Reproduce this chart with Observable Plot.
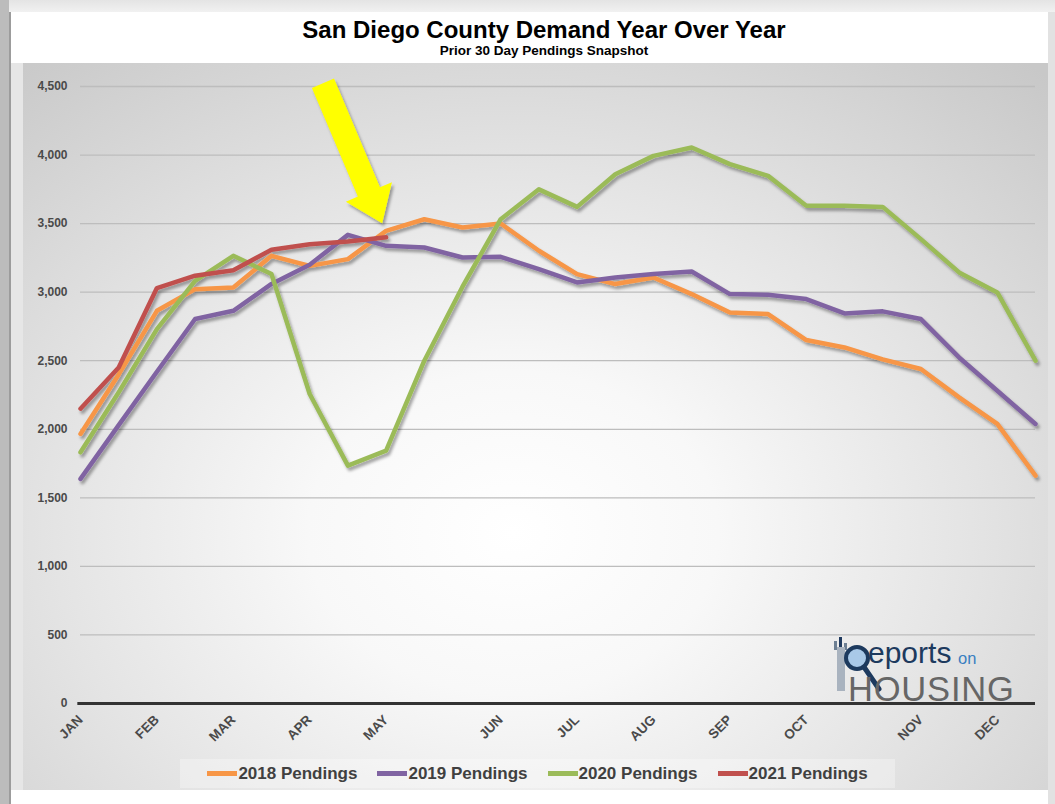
<!DOCTYPE html>
<html>
<head>
<meta charset="utf-8">
<script src="https://cdn.jsdelivr.net/npm/d3@7"></script>
<script src="https://cdn.jsdelivr.net/npm/@observablehq/plot@0.6"></script>
<style>
html,body{margin:0;padding:0;background:#fff;width:1055px;height:804px;overflow:hidden;font-family:"Liberation Sans",Arial,sans-serif;}
#topbar{position:absolute;left:0;top:0;width:1055px;height:12px;background:linear-gradient(#e4e4e4,#f1f1f1);}
#leftbar{position:absolute;left:0;top:0;width:9px;height:804px;background:#bcbcbc;}
#leftline{position:absolute;left:9px;top:12px;width:2px;height:792px;background:#9c9c9c;}
#leftpad{position:absolute;left:11px;top:63px;width:12px;height:727px;background:#e6e6e6;}
#rightpad{position:absolute;left:1048px;top:12px;width:7px;height:792px;background:#e2e2e2;}
#title{position:absolute;left:544px;top:18px;transform:translateX(-50%);white-space:nowrap;font-weight:bold;font-size:24px;line-height:24px;color:#000;}
#subtitle{position:absolute;left:544px;top:44px;transform:translateX(-50%);white-space:nowrap;font-weight:bold;font-size:13.5px;line-height:14px;color:#000;}
#plotbg{position:absolute;left:23px;top:63px;width:1025px;height:727px;
  background:radial-gradient(ellipse 790px 620px at 490px 470px,#ffffff 0%,#f8f8f8 26%,#e4e4e4 58%,#d2d2d2 85%,#c8c8c8 100%);}
#chart{position:absolute;left:0;top:0;}
#legend{position:absolute;left:157px;top:696px;width:715px;height:29px;background:rgba(255,255,255,0.3);
  display:flex;justify-content:center;align-items:center;gap:20px;}
.entry{display:flex;align-items:center;font-weight:bold;font-size:17px;color:#404040;white-space:nowrap;}
.sw{width:30px;height:5px;margin-right:1px;}
#logo{position:absolute;left:800px;top:560px;}
</style>
</head>
<body>
<div id="topbar"></div>
<div id="leftbar"></div>
<div id="leftline"></div>
<div id="leftpad"></div>
<div id="rightpad"></div>
<div id="title">San Diego County Demand Year Over Year</div>
<div id="subtitle">Prior 30 Day Pendings Snapshot</div>
<div id="plotbg">
  <div id="chart"></div>
  <svg id="logo" width="225" height="90" xmlns="http://www.w3.org/2000/svg">
    <rect x="11" y="18" width="3" height="9" fill="#6d7f93"/>
    <rect x="16" y="14" width="3" height="13" fill="#1f3a5f"/>
    <rect x="21" y="20" width="3" height="7" fill="#6d7f93"/>
    <rect x="14" y="24" width="8" height="44" fill="#a9b3bf"/>
    <circle cx="34" cy="35" r="11" fill="#a9c9e8" stroke="#1d3a5e" stroke-width="4"/>
    <line x1="41" y1="44" x2="56" y2="66" stroke="#1d3a5e" stroke-width="5" stroke-linecap="round"/>
    <text x="45" y="39.5" font-family="Liberation Sans, Arial, sans-serif" font-size="30" fill="#1d3a5e">eports</text>
    <text x="135" y="41" font-family="Liberation Sans, Arial, sans-serif" font-size="16.5" fill="#3a7fc1">on</text>
    <text x="25" y="77.5" font-family="Liberation Sans, Arial, sans-serif" font-size="34.5" letter-spacing="0.8" fill="#666">HOUSING</text>
  </svg>
  <div id="legend"></div>
</div>
<script>
// ---- data ----
const months = ["JAN","FEB","MAR","APR","MAY","JUN","JUL","AUG","SEP","OCT","NOV","DEC"];
const monthIndex = [0,2,4,6,8,11,13,15,17,19,22,24];
const seriesNames = ["2018 Pendings","2019 Pendings","2020 Pendings","2021 Pendings"];
const seriesColors = ["#F79646","#8064A2","#9BBB59","#C0504D"];
const pend2018 = [1966,2400,2864,3022,3034,3265,3192,3241,3447,3532,3472,3501,3302,3132,3059,3107,2986,2852,2840,2651,2597,2510,2440,2233,2039,1662];
const pend2019 = [1638,2030,2420,2804,2864,3060,3200,3418,3338,3326,3253,3258,3168,3071,3107,3132,3151,2986,2981,2950,2845,2860,2804,2524,2281,2039];
const pend2020 = [1832,2270,2730,3083,3265,3132,2257,1735,1844,2500,3040,3532,3750,3622,3860,3994,4055,3934,3848,3630,3630,3622,3387,3144,2998,2500];
const pend2021 = [2150,2450,3030,3120,3160,3310,3350,3370,3400];
const yTicks = [0,500,1000,1500,2000,2500,3000,3500,4000,4500];
const arrowNote = [{x1:6.36, y1:4520, x2:7.91, y2:3499}];

const allSeries = [pend2018, pend2019, pend2020, pend2021];
const rows = [];
allSeries.forEach((vals, s) => vals.forEach((v, i) => rows.push({series: seriesNames[s], i, value: v})));

const chart = Plot.plot({
  width: 1025, height: 690,
  marginLeft: 57, marginRight: 13, marginTop: 23, marginBottom: 50,
  style: {background: "transparent", fontFamily: "Liberation Sans, Arial, sans-serif", fontSize: "12px", fontWeight: "bold", color: "#4a4a4a", overflow: "visible"},
  x: {domain: [0, 25], ticks: monthIndex, tickFormat: d => months[monthIndex.indexOf(d)], tickRotate: -45, tickSize: 0, tickPadding: 14, label: null},
  y: {domain: [0, 4500], ticks: yTicks, tickFormat: d3.format(","), tickSize: 0, tickPadding: 13, label: null},
  color: {domain: seriesNames, range: seriesColors},
  marks: [
    Plot.ruleY(yTicks.filter(d => d > 0), {stroke: "#bdbdbd", strokeWidth: 1.3}),
    Plot.ruleY([0], {stroke: "#333", strokeWidth: 3, x1: -0.07, x2: 25}),
    Plot.line(rows, {x: "i", y: "value", z: "series", stroke: "series", strokeWidth: 4.5, strokeLinejoin: "round"})
  ]
});
document.getElementById("chart").appendChild(chart);

const svg = d3.select(chart);
// axis label sizes
svg.selectAll('g[aria-label^="x-axis"]').attr("font-size", 13.5).selectAll("text").attr("font-size", 13.5).style("font-size", "13.5px");
svg.selectAll('g[aria-label^="y-axis"]').attr("font-size", 12).selectAll("text").attr("font-size", 12);

// shadow filter for lines
const defs = svg.insert("defs", ":first-child");
const f = defs.append("filter").attr("id", "shadow").attr("x", "-5%").attr("y", "-5%").attr("width", "115%").attr("height", "120%");
f.append("feDropShadow").attr("dx", 2).attr("dy", 3).attr("stdDeviation", 1.6).attr("flood-color", "#000").attr("flood-opacity", 0.35);
svg.selectAll('g[aria-label="line"]').attr("filter", "url(#shadow)");

// annotation arrow through the chart's scales
const sx = chart.scale("x"), sy = chart.scale("y");
arrowNote.forEach(a => {
  const T = [sx.apply(a.x1), sy.apply(a.y1)], P = [sx.apply(a.x2), sy.apply(a.y2)];
  const dx = P[0] - T[0], dy = P[1] - T[1], L = Math.hypot(dx, dy);
  const u = [dx / L, dy / L], n = [-u[1], u[0]];
  const headLen = 34, sh = 12, hh = 25;
  const B = [P[0] - u[0] * headLen, P[1] - u[1] * headLen];
  const pt = (p, k) => [p[0] + n[0] * k, p[1] + n[1] * k];
  const pts = [pt(T, sh), pt(B, sh), pt(B, hh), P, pt(B, -hh), pt(B, -sh), pt(T, -sh)];
  svg.append("path").attr("d", "M" + pts.map(p => p.join(",")).join("L") + "Z")
    .attr("fill", "#ffff00").attr("filter", "url(#shadow)");
});

// legend
const lg = d3.select("#legend");
seriesNames.forEach((name, k) => {
  const e = lg.append("div").attr("class", "entry");
  e.append("div").attr("class", "sw").style("background", seriesColors[k]);
  e.append("span").text(name);
});
</script>
</body>
</html>
